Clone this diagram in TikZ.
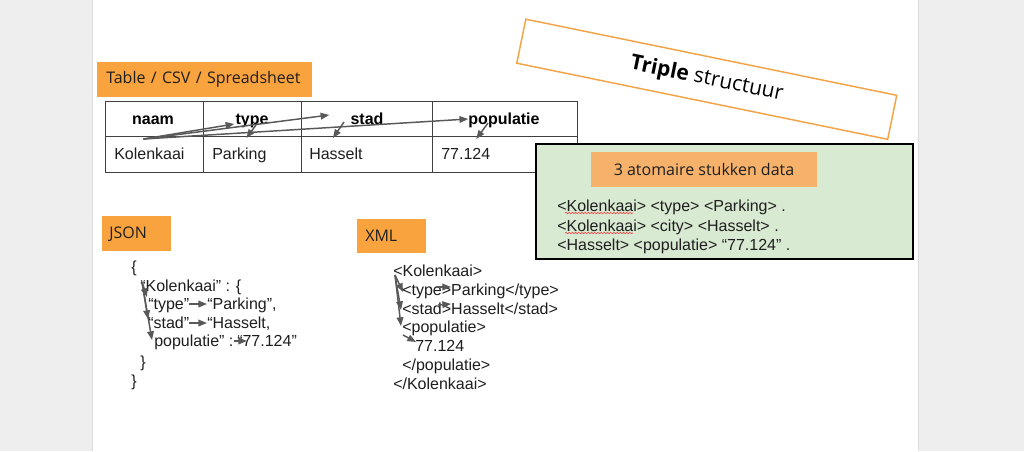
\documentclass[tikz,border=0pt]{standalone}
\usepackage{fontspec}
\setmainfont{Liberation Sans}
\newfontfamily\labelfont{Open Sans}
\usetikzlibrary{arrows.meta,calc,decorations.pathmorphing}

\definecolor{pagegray}{HTML}{EEEEEE}
\definecolor{pageedge}{HTML}{DCDCDC}
\definecolor{tagorange}{HTML}{F9A33E}
\definecolor{softorange}{HTML}{F6B26B}
\definecolor{frameorange}{HTML}{F4A447}
\definecolor{triplegreen}{HTML}{D9EAD3}
\definecolor{gridgray}{HTML}{404040}
\definecolor{arrowgray}{HTML}{595959}
\definecolor{inkdark}{HTML}{1E1E1E}

\begin{document}
\begin{tikzpicture}[x=0.75pt,y=-0.75pt,
  txt/.style={inner sep=0pt, anchor=west, text height=8.6pt, text depth=0pt,
              text=inkdark, font=\fontsize{12}{14}\selectfont},
  hdr/.style={inner sep=0pt, anchor=center, text height=8.6pt, text depth=0pt,
              text=black, font=\fontsize{12}{14}\selectfont\bfseries},
  tag/.style={fill=tagorange, anchor=north west, inner sep=0pt, text=inkdark,
              font=\labelfont\fontsize{12}{14}\selectfont, align=left},
  conn/.style={draw=arrowgray, line width=1.1pt,
               -{Triangle[length=6.5pt,width=5pt]}},
  gridline/.style={draw=gridgray, line width=0.75pt},
  squig/.style={draw=red!75, line width=0.45pt,
                decorate, decoration={snake, amplitude=0.55pt, segment length=2.4pt}}
]
\useasboundingbox (0,0) rectangle (1024,451);

% page and surrounding canvas
\fill[pagegray] (0,0) rectangle (1024,451);
\fill[white] (92,0) rectangle (918,451);
\draw[pageedge, line width=0.75pt] (92,0) -- (92,451);
\draw[pageedge, line width=0.75pt] (918,0) -- (918,451);

% ---------- rotated "Triple structuur" banner ----------
\node[draw=frameorange, line width=1.1pt, fill=white, rotate=-11.6,
      minimum width=284pt, minimum height=33.7pt, inner sep=0pt,
      font=\labelfont\fontsize{15.75}{18}\selectfont, text=black]
  (triple) at (706.75,79.25) {\textbf{Triple} structuur};

% ---------- table ----------
\node[tag, minimum width=161.25pt, minimum height=26.25pt,
      text width=147.75pt, inner xsep=6.75pt] (tabletag) at (97,62)
  {Table / CSV / Spreadsheet};

\node[gridline, draw, anchor=north west, inner sep=0pt,
      minimum width=354pt, minimum height=53.25pt] (tbl) at (105,101) {};
\draw[gridline] (105,136) -- (577,136);
\foreach \cx in {203,301,432} \draw[gridline] (\cx,101) -- (\cx,172);

\node[hdr] (hn) at (153,119) {naam};
\node[hdr] (ht) at (252,119) {type};
\node[hdr] (hs) at (367,119) {stad};
\node[hdr] (hp) at (504,119) {populatie};

\node[txt] (ck) at (114,154) {Kolenkaai};
\node[txt] (cp) at (212,154) {Parking};
\node[txt] (ch) at (309,154) {Hasselt};
\node[txt] (cv) at (441,154) {77.124};

\coordinate (kstart) at ($(ck.north)+(-6,-9)$);
\draw[conn] (kstart) -- ($(ht.west)+(-1,5)$);
\draw[conn] (kstart) -- ($(hs.west)+(-21,-4)$);
\draw[conn] (kstart) -- (hp.west);
\draw[conn] ($(ht.south)+(4,0)$) -- ($(cp.north)+(7,-10)$);
\draw[conn] ($(hs.south)+(-23,-3)$) -- ($(ch.north)+(-3,-10)$);
\draw[conn] ($(hp.south)+(-16,-2)$) -- ($(cv.north)+(10.5,-9)$);

% ---------- triples box ----------
\node[draw=black, line width=1.5pt, fill=triplegreen, anchor=north west,
      inner sep=0pt, minimum width=282.75pt, minimum height=86.25pt]
  (triples) at (535,143) {};
\node[fill=softorange, inner sep=0pt, minimum width=169.5pt, minimum height=26.25pt,
      text=inkdark, font=\labelfont\fontsize{12}{14}\selectfont]
  (atomtag) at (704,169.5) {3 atomaire stukken data};
\node[txt] (g1) at (557,206) {<Kolenkaai> <type> <Parking> .};
\node[txt] (g2) at (557,226) {<Kolenkaai> <city> <Hasselt> .};
\node[txt] (g3) at (557,245) {<Hasselt> <populatie> “77.124” .};
\draw[squig] ($(g1.west)+(8,7)$) -- ($(g1.west)+(76,7)$);
\draw[squig] ($(g2.west)+(8,7)$) -- ($(g2.west)+(76,7)$);

% ---------- JSON ----------
\node[tag, minimum width=51.75pt, minimum height=26.25pt,
      text width=41.25pt, inner xsep=5.25pt] (jsontag) at (102,216) {JSON};

\node[txt] (jb1) at (131,267) {\{};
\node[txt] (jk) at (140,286) {“Kolenkaai” : \{};
\node[txt] (jt) at (148,304) {“type”};
\node[txt] (jp) at (207,304) {“Parking”,};
\node[txt] (js) at (148,323) {“stad”};
\node[txt] (jh) at (207,323) {“Hasselt,};
\node[txt] (jpop) at (154,341) {populatie” :};
\node[txt] (jv) at (237,341) {“77.124”};
\node[txt] (jb2) at (140,362) {\}};
\node[txt] (jb3) at (131,381) {\}};

\coordinate (jstart) at ($(jk.west)+(2,-4)$);
\draw[conn] (jstart) -- ($(jt.west)+(-1,-7)$);
\draw[conn] (jstart) -- ($(js.west)+(0,-4)$);
\draw[conn] (jstart) -- ($(jpop.west)+(-2,-1)$);
\draw[conn] (jt.east) -- (jp.west);
\draw[conn] (js.east) -- (jh.west);
\draw[conn] (jpop.east) -- ($(jv.west)+(10,0)$);

% ---------- XML ----------
\node[tag, minimum width=51.75pt, minimum height=25.5pt,
      text width=39.75pt, inner xsep=6pt] (xmltag) at (357,219) {XML};

\node[txt] (xk) at (393,271) {<Kolenkaai>};
\node[txt] (xt) at (402,290) {<type>Parking</type>};
\node[txt] (xs) at (402,309) {<stad>Hasselt</stad>};
\node[txt] (xp) at (402,327) {<populatie>};
\node[txt] (xv) at (415,346) {77.124};
\node[txt] (xpe) at (402,365) {</populatie>};
\node[txt] (xke) at (393,384) {</Kolenkaai>};

\coordinate (xstart) at ($(xk.west)+(2,4)$);
\draw[conn] (xstart) -- ($(xt.west)+(1,2)$);
\draw[conn] (xstart) -- ($(xs.west)+(-1,1)$);
\draw[conn] (xstart) -- ($(xp.west)+(-1,-1)$);
\draw[conn] ($(xp.west)+(1,8)$) -- ($(xv.west)+(1,-4)$);
\draw[conn] ($(xt.west)+(34,-3)$) -- ($(xt.west)+(49,-3)$);
\draw[conn] ($(xs.west)+(36,-4)$) -- ($(xs.west)+(49,-5)$);

\end{tikzpicture}
\end{document}
